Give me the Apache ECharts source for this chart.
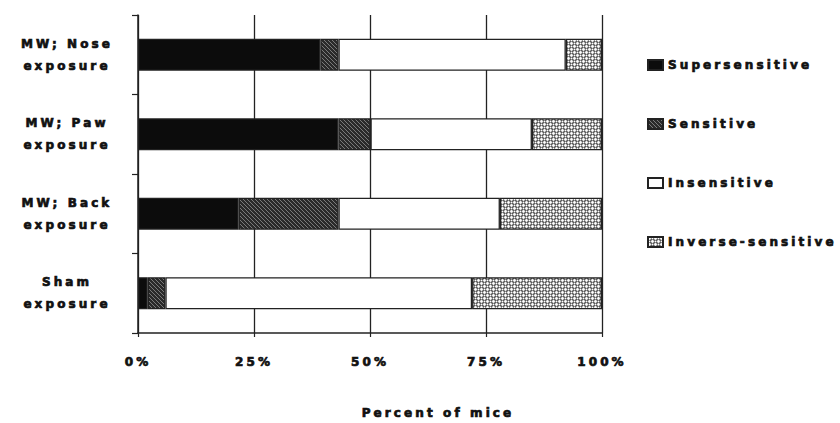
<!DOCTYPE html>
<html>
<head>
<meta charset="utf-8">
<script src="https://cdn.jsdelivr.net/npm/echarts@6/dist/echarts.min.js"></script>
<style>
html,body{margin:0;padding:0;background:#fff;}
#main{width:840px;height:423px;}
#main text{letter-spacing:3.1px;font-weight:bold;}
</style>
</head>
<body>
<div id="main"></div>
<script>
const categories = ['MW; Nose\nexposure', 'MW; Paw\nexposure', 'MW; Back\nexposure', 'Sham\nexposure'];
const seriesNames = ['Supersensitive', 'Sensitive', 'Insensitive', 'Inverse-sensitive'];
const supersensitive = [39.3, 43.2, 21.7, 2.1];
const sensitive = [3.9, 6.9, 21.5, 3.8];
const insensitive = [49.0, 34.8, 34.8, 66.1];
const inverseSensitive = [7.8, 15.1, 22.0, 28.0];
const xTicks = [0, 25, 50, 75, 100];
const xTitle = 'Percent of mice';

function hatchPattern() {
  const c = document.createElement('canvas');
  c.width = 4; c.height = 4;
  const g = c.getContext('2d');
  g.fillStyle = '#2a2a2a'; g.fillRect(0, 0, 4, 4);
  g.strokeStyle = '#7a7a7a'; g.lineWidth = 1;
  g.beginPath();
  g.moveTo(-1, -1); g.lineTo(5, 5);
  g.moveTo(-1, 3); g.lineTo(1, 5);
  g.moveTo(3, -1); g.lineTo(5, 1);
  g.stroke();
  return c.toDataURL();
}
function dotPattern() {
  const c = document.createElement('canvas');
  c.width = 6; c.height = 6;
  const g = c.getContext('2d');
  g.fillStyle = '#4a4a4a'; g.fillRect(0, 0, 6, 6);
  g.fillStyle = '#fff';
  g.beginPath(); g.arc(1.5, 1.5, 1.4, 0, Math.PI * 2); g.fill();
  g.beginPath(); g.arc(4.5, 4.5, 1.4, 0, Math.PI * 2); g.fill();
  g.beginPath(); g.arc(4.5, 1.5, 1.0, 0, Math.PI * 2); g.fill();
  g.beginPath(); g.arc(1.5, 4.5, 1.0, 0, Math.PI * 2); g.fill();
  return c.toDataURL();
}

const fills = [
  '#0c0c0c',
  { image: hatchPattern(), repeat: 'repeat' },
  '#ffffff',
  { image: dotPattern(), repeat: 'repeat' }
];
const values = [supersensitive, sensitive, insensitive, inverseSensitive];
const font = 'DejaVu Sans';
const heavy = { fontFamily: font, fontWeight: 'bold', fontSize: 12, color: '#111', textBorderColor: '#111', textBorderWidth: 0.7 };

const chart = echarts.init(document.getElementById('main'), null, { renderer: 'svg' });
chart.setOption({
  animation: false,
  backgroundColor: '#fff',
  grid: { left: 138, right: 238, top: 15, bottom: 90, containLabel: false },
  legend: {
    orient: 'vertical',
    left: 642,
    top: 53,
    itemWidth: 15,
    itemHeight: 10,
    itemGap: 45,
    icon: 'rect',
    data: seriesNames,
    textStyle: Object.assign({ lineHeight: 14 }, heavy)
  },
  xAxis: {
    type: 'value',
    min: xTicks[0],
    max: xTicks[xTicks.length - 1],
    interval: 25,
    axisLine: { show: true, lineStyle: { color: '#222', width: 1.5 } },
    axisTick: { show: true, length: 4, lineStyle: { color: '#222', width: 1.2 } },
    splitLine: { show: true, lineStyle: { color: '#222', width: 1.3 } },
    axisLabel: Object.assign({ formatter: '{value}%', margin: 23 }, heavy)
  },
  yAxis: {
    type: 'category',
    inverse: true,
    data: categories,
    axisLine: { show: true, lineStyle: { color: '#222', width: 1.5 } },
    axisTick: { show: true, length: 6, lineStyle: { color: '#222', width: 1.2 } },
    axisLabel: Object.assign({ align: 'center', margin: 71, lineHeight: 22 }, heavy)
  },
  graphic: [{
    type: 'text',
    x: 438,
    y: 413,
    style: { text: xTitle, textAlign: 'center', textVerticalAlign: 'middle', font: 'bold 12px "DejaVu Sans"', fill: '#111', stroke: '#111', lineWidth: 0.7 }
  }],
  series: seriesNames.map((name, i) => ({
    name: name,
    type: 'bar',
    stack: 'total',
    barWidth: 32,
    data: values[i],
    itemStyle: { color: fills[i], borderColor: '#222', borderWidth: 1.3 }
  }))
});
</script>
</body>
</html>
